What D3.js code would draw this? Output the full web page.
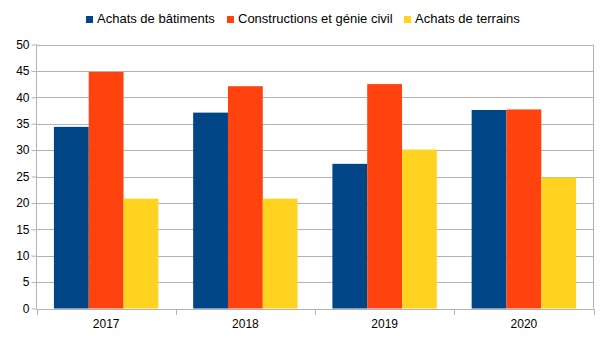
<!DOCTYPE html>
<html><head><meta charset="utf-8">
<script src="https://cdn.jsdelivr.net/npm/d3@7"></script>
<style>body{margin:0;background:#fff}svg{display:block}text{font-family:"Liberation Sans",Arial,sans-serif}</style>
</head><body><svg id="c" width="605" height="340"></svg>
<script>
const categories = ["2017","2018","2019","2020"];
const seriesNames = ["Achats de bâtiments","Constructions et génie civil","Achats de terrains"];
const batiments = [34.4, 37.1, 27.4, 37.6];
const constructions = [44.8, 42.1, 42.5, 37.7];
const terrains = [20.8, 20.8, 30.1, 24.8];
const yTicks = [0,5,10,15,20,25,30,35,40,45,50];
const colors = ["#004586","#ff420e","#ffd320"];
const seriesValues = [batiments, constructions, terrains];

const svg = d3.select("#c");
const L = 36.5, R = 593.5, T = 44.5, B = 308.5;
const x = d3.scaleBand().domain(categories).range([L, R]).paddingInner(0).paddingOuter(0);
const x1 = d3.scaleBand().domain(d3.range(3)).range([0, x.bandwidth()]).paddingOuter(0.5).paddingInner(0);
const y = d3.scaleLinear().domain([0,50]).range([B, T]);
const grid = "#b3b3b3";

// gridlines
svg.append("g").selectAll("line").data(yTicks).join("line")
  .attr("x1", L).attr("x2", R).attr("y1", d=>Math.round(y(d))+0.5).attr("y2", d=>Math.round(y(d))+0.5)
  .attr("stroke", grid);
// right border
svg.append("line").attr("x1", R).attr("x2", R).attr("y1", y(50)).attr("y2", B).attr("stroke", grid);

// bars
const g = svg.append("g");
categories.forEach((c, i) => {
  seriesValues.forEach((vals, s) => {
    g.append("rect")
      .attr("x", x(c) + x1(s)).attr("width", x1.bandwidth())
      .attr("y", y(vals[i])).attr("height", B - y(vals[i]))
      .attr("fill", colors[s]);
  });
});

// y axis
const ya = svg.append("g").attr("transform", `translate(${L},0)`)
  .call(d3.axisLeft(y).tickValues(yTicks).tickSize(5).tickPadding(2).tickFormat(d3.format("d")));
ya.select(".domain").attr("stroke", grid).attr("d", `M-0,${T}V${B}`);
ya.selectAll(".tick line").attr("stroke", grid);
ya.selectAll(".tick text").attr("font-size", 12).attr("fill", "#000").attr("font-family", '"Liberation Sans",Arial,sans-serif');

// x axis
const xa = svg.append("g").attr("transform", `translate(0,${Math.round(B)+0.5})`)
  .call(d3.axisBottom(x).tickSize(0).tickPadding(10));
xa.select(".domain").attr("stroke", grid).attr("d", `M${L},0H${R}`);
xa.selectAll(".tick text").attr("font-size", 12).attr("fill", "#000").attr("font-family", '"Liberation Sans",Arial,sans-serif');
const bounds = categories.map(c => x(c)).concat([R]);
svg.append("g").selectAll("line").data(bounds).join("line")
  .attr("x1", d=>Math.round(d)+0.5).attr("x2", d=>Math.round(d)+0.5)
  .attr("y1", Math.round(B)).attr("y2", Math.round(B)+6).attr("stroke", grid);

// legend
const legendX = [86, 227, 404];
const lg = svg.append("g");
seriesNames.forEach((n, s) => {
  lg.append("rect").attr("x", legendX[s]).attr("y", 16).attr("width", 7).attr("height", 7).attr("fill", colors[s]);
  lg.append("text").attr("x", legendX[s] + 11).attr("y", 23).attr("font-size", 13).attr("fill", "#000").text(n);
});
</script></body></html>
